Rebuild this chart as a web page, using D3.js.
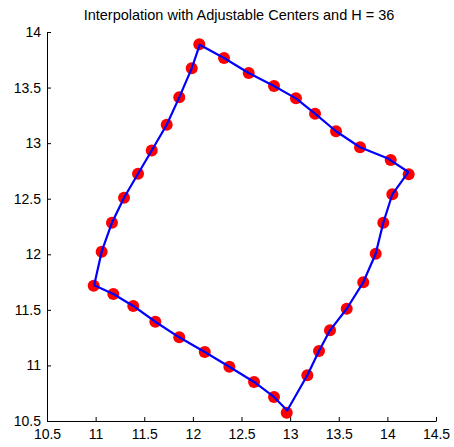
<!DOCTYPE html>
<html><head><meta charset="utf-8">
<script src="https://cdn.jsdelivr.net/npm/d3@7"></script>
<style>html,body{margin:0;padding:0;background:#fff;}svg{display:block;font-family:"Liberation Sans",Arial,sans-serif;}</style>
</head><body>
<svg id="chart" width="454" height="447"></svg>
<script>
const titleText = "Interpolation with Adjustable Centers and H = 36";
const xTicks = [10.5, 11, 11.5, 12, 12.5, 13, 13.5, 14, 14.5];
const yTicks = [10.5, 11, 11.5, 12, 12.5, 13, 13.5, 14];
const centerX = [12.066,12.320,12.574,12.834,13.060,13.256,13.472,13.719,14.034,14.219,14.051,13.958,13.880,13.752,13.582,13.410,13.297,13.177,12.965,12.834,12.629,12.375,12.122,11.860,11.614,11.387,11.182,10.980,11.062,11.168,11.292,11.436,11.577,11.731,11.860,11.988];
const centerY = [13.889,13.766,13.631,13.514,13.403,13.265,13.107,12.963,12.848,12.720,12.540,12.284,12.005,11.748,11.510,11.316,11.130,10.911,10.575,10.716,10.851,10.988,11.121,11.253,11.393,11.535,11.643,11.717,12.023,12.284,12.509,12.725,12.934,13.166,13.412,13.673];
// interpolated curve vertices (blue line)
const curveX = [12.07,12.320,12.574,12.834,13.060,13.256,13.472,13.719,14.000,14.215,14.051,13.958,13.880,13.752,13.582,13.410,13.297,13.177,12.970,12.834,12.629,12.375,12.122,11.860,11.614,11.387,11.182,10.985,11.062,11.168,11.292,11.436,11.577,11.731,11.860,11.988];
const curveY = [13.885,13.766,13.631,13.514,13.403,13.265,13.107,12.963,12.865,12.740,12.540,12.284,12.005,11.748,11.510,11.316,11.130,10.911,10.595,10.716,10.851,10.988,11.121,11.253,11.393,11.535,11.643,11.722,12.023,12.284,12.509,12.725,12.934,13.166,13.412,13.673];

const svg = d3.select("#chart");
const x = d3.scaleLinear().domain([10.5, 14.5]).range([47, 436]);
const y = d3.scaleLinear().domain([10.5, 14]).range([421, 32]);

svg.append("text").attr("x", 239).attr("y", 20).attr("text-anchor", "middle")
  .attr("font-size", 14.5).attr("fill", "#000").text(titleText);

const fmt = d => String(d);
const gx = svg.append("g").attr("transform", "translate(0,421)")
  .call(d3.axisBottom(x).tickValues(xTicks).tickFormat(fmt).tickSizeInner(-4).tickSizeOuter(0).tickPadding(8));
const gy = svg.append("g").attr("transform", "translate(47,0)")
  .call(d3.axisLeft(y).tickValues(yTicks).tickFormat(fmt).tickSizeInner(-4).tickSizeOuter(0).tickPadding(6));
[gx, gy].forEach(g => {
  g.selectAll("text").attr("font-size", 14).attr("fill", "#000").style("font-family", "'Liberation Sans',Arial,sans-serif");
  g.selectAll("line,path").attr("stroke", "#000");
});
gx.selectAll("text").attr("dy", "0.71em");

const pts = centerX.map((v, i) => [v, centerY[i]]);
const cpts = curveX.map((v, i) => [v, curveY[i]]);

svg.append("g").selectAll("circle").data(pts).join("circle")
  .attr("cx", d => x(d[0])).attr("cy", d => y(d[1])).attr("r", 6).attr("fill", "#ff0000");

svg.append("path").datum(cpts)
  .attr("d", d3.line().x(d => x(d[0])).y(d => y(d[1])).curve(d3.curveLinearClosed))
  .attr("fill", "none").attr("stroke", "#0000ff").attr("stroke-width", 2.2).attr("stroke-linejoin", "round");
</script>
</body></html>
